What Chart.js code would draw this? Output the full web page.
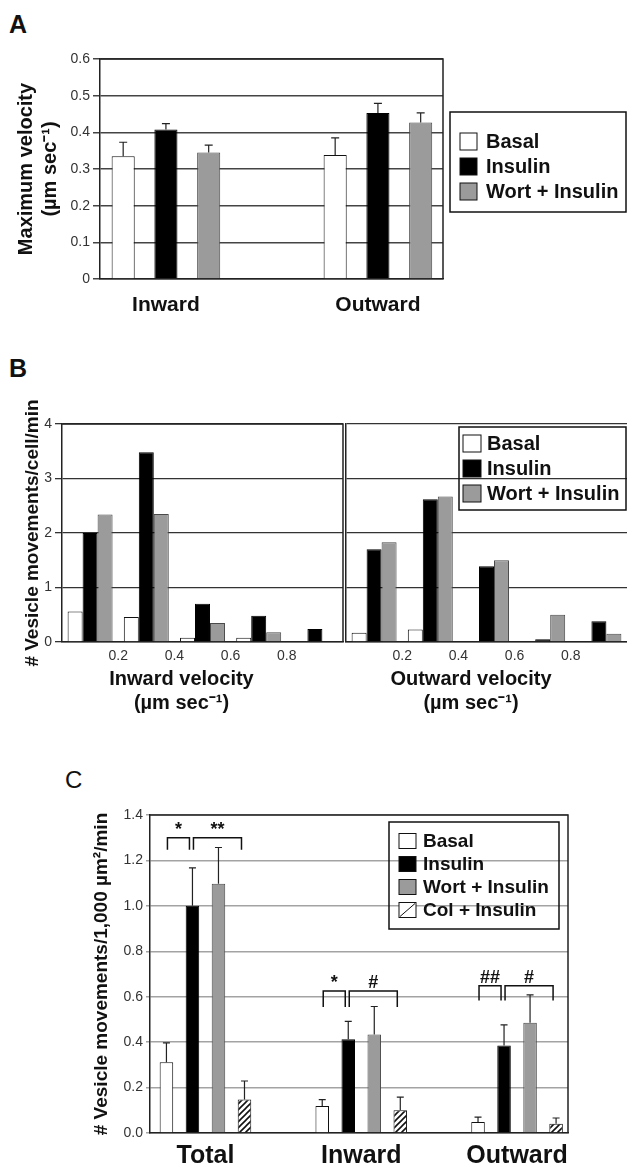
<!DOCTYPE html>
<html>
<head>
<meta charset="utf-8">
<script src="https://cdn.jsdelivr.net/npm/chart.js@4.4.1/dist/chart.umd.min.js"></script>
<style>
  html, body { margin: 0; padding: 0; background: #fff; }
  #fig { position: relative; width: 627px; height: 1169px; overflow: hidden; color: #111;
         font-family: 'Liberation Sans', Arial, sans-serif; }
  #fig canvas { position: absolute; }
  .lbl { position: absolute; line-height: 1; }
</style>
</head>
<body>
<div id="fig">
  <div class="lbl" style="left:9px;top:12px;font-weight:bold;font-size:25px">A</div>
  <div class="lbl" style="left:9px;top:356px;font-weight:bold;font-size:25px">B</div>
  <div class="lbl" style="left:65px;top:768px;font-size:24px">C</div>
  <canvas id="chartA" width="627" height="330" style="left:0;top:0"></canvas>
  <canvas id="chartBin" width="345" height="330" style="left:0;top:390px"></canvas>
  <canvas id="chartBout" width="327" height="330" style="left:300px;top:390px"></canvas>
  <canvas id="chartC" width="627" height="409" style="left:0;top:760px"></canvas>
</div>
<script>
// Panel A - maximum velocity
const aCategories = ['Inward', 'Outward'];
const aBasal = [0.335, 0.338];
const aBasalErr = [0.038, 0.047];
const aInsulin = [0.408, 0.453];
const aInsulinErr = [0.016, 0.026];
const aWort = [0.345, 0.427];
const aWortErr = [0.02, 0.026];

// Panel B - velocity histograms (bins of 0.2 um/s)
const bBins = ['0-0.2', '0.2-0.4', '0.4-0.6', '0.6-0.8', '0.8-1.0'];
const bVelocityTicks = [0.2, 0.4, 0.6, 0.8];
const bInBasal = [0.56, 0.46, 0.08, 0.08, 0];
const bInInsulin = [2.0, 3.48, 0.70, 0.48, 0.24];
const bInWort = [2.34, 2.35, 0.35, 0.18, 0];
const bOutBasal = [0.17, 0.23, 0, 0, 0];
const bOutInsulin = [1.70, 2.62, 1.39, 0.05, 0.38];
const bOutWort = [1.83, 2.67, 1.50, 0.50, 0.15];

// Panel C - movements per area
const cGroups = ['Total', 'Inward', 'Outward'];
const cBasal = [0.312, 0.119, 0.048];
const cBasalErr = [0.085, 0.028, 0.022];
const cInsulin = [1.0, 0.413, 0.385];
const cInsulinErr = [0.167, 0.078, 0.091];
const cWort = [1.097, 0.434, 0.485];
const cWortErr = [0.16, 0.123, 0.123];
const cCol = [0.147, 0.10, 0.041];
const cColErr = [0.082, 0.058, 0.025];
// [group, from series, to series, bracket top, bracket foot, mark]
const cBrackets = [
  [0, 0, 1, 1.30, 1.247, '*'],
  [0, 1, 3, 1.30, 1.247, '**'],
  [1, 0, 1, 0.625, 0.555, '*'],
  [1, 1, 3, 0.625, 0.555, '#'],
  [2, 0, 1, 0.648, 0.583, '##'],
  [2, 1, 3, 0.648, 0.583, '#']
];

Chart.defaults.font.family = "'Liberation Sans', Arial, sans-serif";
Chart.defaults.color = '#222';
Chart.defaults.animation = false;
Chart.defaults.responsive = false;
Chart.defaults.plugins.legend.display = false;
Chart.defaults.plugins.tooltip.enabled = false;

const FONT = "'Liberation Sans', Arial, sans-serif";

// diagonal hatch for Col + Insulin
const hatch = (function() {
  const c = document.createElement('canvas');
  c.width = 6; c.height = 6;
  const g = c.getContext('2d');
  g.fillStyle = '#fff';
  g.fillRect(0, 0, 6, 6);
  g.strokeStyle = '#111';
  g.lineWidth = 1.6;
  g.beginPath();
  g.moveTo(0, 6); g.lineTo(6, 0);
  g.moveTo(-3, 3); g.lineTo(3, -3);
  g.moveTo(3, 9); g.lineTo(9, 3);
  g.stroke();
  return g.createPattern(c, 'repeat');
})();

const basalStyle = { backgroundColor: '#fff', borderColor: '#111', borderWidth: 1 };
const insulinStyle = { backgroundColor: '#000', borderColor: '#000', borderWidth: 1 };
const wortStyle = { backgroundColor: '#9b9b9b', borderColor: '#4a4a4a', borderWidth: 1 };
const colStyle = { backgroundColor: hatch, borderColor: '#111', borderWidth: 1, hatch: true };

// top and right edges of the plot box
const frame = {
  id: 'frame',
  beforeDatasetsDraw(chart, args, opts) {
    const { ctx, chartArea: a } = chart;
    ctx.save();
    ctx.strokeStyle = opts.color || '#222';
    ctx.lineWidth = opts.width || 1.5;
    ctx.beginPath();
    ctx.moveTo(a.left, a.top);
    ctx.lineTo(a.right, a.top);
    ctx.lineTo(a.right, a.bottom);
    ctx.stroke();
    ctx.restore();
  }
};

// one-sided (upper) error bars
const errorBars = {
  id: 'errorBars',
  afterDatasetsDraw(chart, args, opts) {
    const { ctx } = chart;
    const y = chart.scales.y;
    ctx.save();
    ctx.strokeStyle = '#222';
    ctx.lineWidth = 1.2;
    chart.data.datasets.forEach((ds, i) => {
      if (!ds.errors) return;
      chart.getDatasetMeta(i).data.forEach((bar, j) => {
        const top = y.getPixelForValue(ds.data[j] + ds.errors[j]);
        ctx.beginPath();
        ctx.moveTo(bar.x, bar.y);
        ctx.lineTo(bar.x, top);
        ctx.moveTo(bar.x - opts.cap, top);
        ctx.lineTo(bar.x + opts.cap, top);
        ctx.stroke();
      });
    });
    ctx.restore();
  }
};

// boxed legend like the original figure
const boxLegend = {
  id: 'boxLegend',
  afterDraw(chart, args, o) {
    const { ctx } = chart;
    ctx.save();
    ctx.lineWidth = 1.5;
    ctx.strokeStyle = '#111';
    ctx.strokeRect(o.x, o.y, o.w, o.h);
    ctx.font = o.font;
    ctx.textBaseline = 'middle';
    chart.data.datasets.forEach((ds, i) => {
      const cy = o.first + i * o.row;
      const sx = o.x + o.sx, sy = cy - o.sh / 2;
      ctx.lineWidth = 1;
      ctx.strokeStyle = '#111';
      if (ds.hatch) {
        ctx.fillStyle = '#fff';
        ctx.fillRect(sx, sy, o.sw, o.sh);
        ctx.beginPath();
        ctx.moveTo(sx + 1, sy + o.sh - 1);
        ctx.lineTo(sx + o.sw - 1, sy + 1);
        ctx.stroke();
      } else {
        ctx.fillStyle = ds.backgroundColor;
        ctx.fillRect(sx, sy, o.sw, o.sh);
      }
      ctx.strokeRect(sx, sy, o.sw, o.sh);
      ctx.fillStyle = '#111';
      ctx.fillText(ds.label, o.x + o.tx, cy + 1);
    });
    ctx.restore();
  }
};

// significance brackets for panel C
const brackets = {
  id: 'brackets',
  afterDatasetsDraw(chart) {
    const { ctx } = chart;
    const y = chart.scales.y;
    ctx.save();
    ctx.strokeStyle = '#111';
    ctx.fillStyle = '#111';
    ctx.lineWidth = 1.5;
    ctx.font = 'bold 18px ' + FONT;
    ctx.textAlign = 'center';
    ctx.textBaseline = 'alphabetic';
    cBrackets.forEach(([g, a, b, top, foot, mark]) => {
      const x1 = chart.getDatasetMeta(a).data[g].x + 1;
      const x2 = chart.getDatasetMeta(b).data[g].x - 3;
      const yt = y.getPixelForValue(top);
      const yb = y.getPixelForValue(foot);
      ctx.beginPath();
      ctx.moveTo(x1, yb);
      ctx.lineTo(x1, yt);
      ctx.lineTo(x2, yt);
      ctx.lineTo(x2, yb);
      ctx.stroke();
      ctx.fillText(mark, (x1 + x2) / 2, yt - 3);
    });
    ctx.restore();
  }
};

// ---- Panel A ----
new Chart(document.getElementById('chartA'), {
  type: 'bar',
  data: {
    labels: aCategories.map((c, i) => i),
    datasets: [
      { ...basalStyle, label: 'Basal', data: aBasal, errors: aBasalErr },
      { ...insulinStyle, label: 'Insulin', data: aInsulin, errors: aInsulinErr },
      { ...wortStyle, label: 'Wort + Insulin', data: aWort, errors: aWortErr }
    ]
  },
  options: {
    categoryPercentage: 0.605,
    barPercentage: 0.54,
    layout: { padding: { left: 0, top: 59, right: 184, bottom: 0 } },
    plugins: {
      errorBars: { cap: 4 },
      boxLegend: { x: 450, y: 112, w: 176, h: 100, first: 141.5, row: 25, sx: 10, sw: 17, sh: 17, tx: 36,
                   font: 'bold 20px ' + FONT }
    },
    scales: {
      x: {
        type: 'linear', offset: false, min: -0.311, max: 1.307,
        afterBuildTicks: s => { s.ticks = aCategories.map((c, i) => ({ value: i })); },
        afterFit: s => { s.height = 51; },
        ticks: { autoSkip: false, maxRotation: 0, padding: 14, color: '#111',
                 font: { size: 21, weight: 'bold' }, callback: v => aCategories[v] },
        grid: { display: false, drawTicks: false, offset: false },
        border: { display: true, color: '#222', width: 1.5 }
      },
      y: {
        min: 0, max: 0.6,
        afterFit: s => { s.width = 100; },
        ticks: { stepSize: 0.1, color: '#333', padding: 3, font: { size: 14 } },
        grid: { color: '#444', lineWidth: 1.5, tickLength: 7 },
        border: { color: '#222', width: 1.5 },
        title: { display: true, text: ['Maximum velocity', '(µm sec⁻¹)'], color: '#111',
                 font: { size: 20, weight: 'bold', lineHeight: 1.2 }, padding: { top: 14, bottom: 0 } }
      }
    }
  },
  plugins: [frame, errorBars, boxLegend]
});

// ---- Panel B ----
function histogram(canvasId, basal, insulin, wort, title, opts) {
  return new Chart(document.getElementById(canvasId), {
    type: 'bar',
    data: {
      labels: bBins,
      datasets: [
        { ...basalStyle, label: 'Basal', data: basal },
        { ...insulinStyle, label: 'Insulin', data: insulin },
        { ...wortStyle, label: 'Wort + Insulin', data: wort }
      ]
    },
    options: {
      categoryPercentage: 0.8,
      barPercentage: 1.0,
      layout: { padding: opts.padding },
      plugins: {
        title: { display: true, position: 'bottom', text: title, color: '#111',
                 font: { size: 20, weight: 'bold', lineHeight: 1.2 }, padding: { top: 3, bottom: 5 } },
        boxLegend: opts.legend
      },
      scales: {
        x: { display: false },
        x2: {
          type: 'linear', axis: 'x', position: 'bottom', offset: false, min: 0, max: 1,
          afterBuildTicks: s => { s.ticks = bVelocityTicks.map(v => ({ value: v })); },
          afterFit: s => { s.height = 22; },
          ticks: { autoSkip: false, maxRotation: 0, padding: 5.6, color: '#333', font: { size: 14 } },
          grid: { display: false, drawTicks: false, offset: false },
          border: { display: true, color: '#222', width: 1.5 }
        },
        y: {
          min: 0, max: 4,
          afterFit: s => { s.width = opts.yWidth; },
          ticks: { stepSize: 1, display: opts.yTicks, color: '#333', font: { size: 14 } },
          grid: { color: '#333', lineWidth: 1.3, tickLength: 7, drawTicks: opts.yTicks },
          border: { color: '#222', width: 1.5 },
          title: { display: opts.yTicks, text: '# Vesicle movements/cell/min', color: '#111',
                   font: { size: 19, weight: 'bold', lineHeight: 1.2 }, padding: { top: 1.6, bottom: 0 } }
        }
      }
    },
    plugins: opts.plugins
  });
}

histogram('chartBin', bInBasal, bInInsulin, bInWort, ['Inward velocity', '(µm sec⁻¹)'], {
  padding: { left: 20, right: 2, top: 34, bottom: 0 },
  yWidth: 42, yTicks: true, plugins: [frame]
});

histogram('chartBout', bOutBasal, bOutInsulin, bOutWort, ['Outward velocity', '(µm sec⁻¹)'], {
  padding: { left: 15, right: 0, top: 34, bottom: 0 },
  yWidth: 31, yTicks: false,
  legend: { x: 159, y: 37, w: 167, h: 83, first: 53.5, row: 25, sx: 4, sw: 18, sh: 17, tx: 28,
            font: 'bold 20px ' + FONT },
  plugins: [boxLegend]
});

// ---- Panel C ----
new Chart(document.getElementById('chartC'), {
  type: 'bar',
  data: {
    labels: cGroups.map((c, i) => i),
    datasets: [
      { ...basalStyle, label: 'Basal', data: cBasal, errors: cBasalErr },
      { ...insulinStyle, label: 'Insulin', data: cInsulin, errors: cInsulinErr },
      { ...wortStyle, label: 'Wort + Insulin', data: cWort, errors: cWortErr },
      { ...colStyle, label: 'Col + Insulin', data: cCol, errors: cColErr }
    ]
  },
  options: {
    categoryPercentage: 0.668,
    barPercentage: 0.52,
    layout: { padding: { left: 0, top: 55, right: 59, bottom: 0 } },
    plugins: {
      errorBars: { cap: 3.5 },
      boxLegend: { x: 389, y: 62, w: 170, h: 107, first: 81, row: 23, sx: 10, sw: 17, sh: 15, tx: 34,
                   font: 'bold 19px ' + FONT }
    },
    scales: {
      x: {
        type: 'linear', offset: false, min: -0.356, max: 2.327,
        afterBuildTicks: s => { s.ticks = cGroups.map((c, i) => ({ value: i })); },
        afterFit: s => { s.height = 36; },
        ticks: { autoSkip: false, maxRotation: 0, padding: 7.7, color: '#111',
                 font: { size: 25, weight: 'bold' }, callback: v => cGroups[v] },
        grid: { display: false, drawTicks: false, offset: false },
        border: { display: true, color: '#222', width: 1.5 }
      },
      y: {
        min: 0, max: 1.4,
        afterFit: s => { s.width = 150; },
        ticks: { stepSize: 0.2, color: '#333', padding: 3, font: { size: 14 },
                 callback: v => v.toFixed(1) },
        grid: { color: '#a3a3a3', lineWidth: 1.5, tickLength: 4 },
        border: { color: '#222', width: 1.5 },
        title: { display: true, text: '# Vesicle movements/1,000 µm²/min', color: '#111',
                 font: { size: 19, weight: 'bold', lineHeight: 1.2 }, padding: { top: 90, bottom: 0 } }
      }
    }
  },
  plugins: [frame, errorBars, brackets, boxLegend]
});
</script>
</body>
</html>
